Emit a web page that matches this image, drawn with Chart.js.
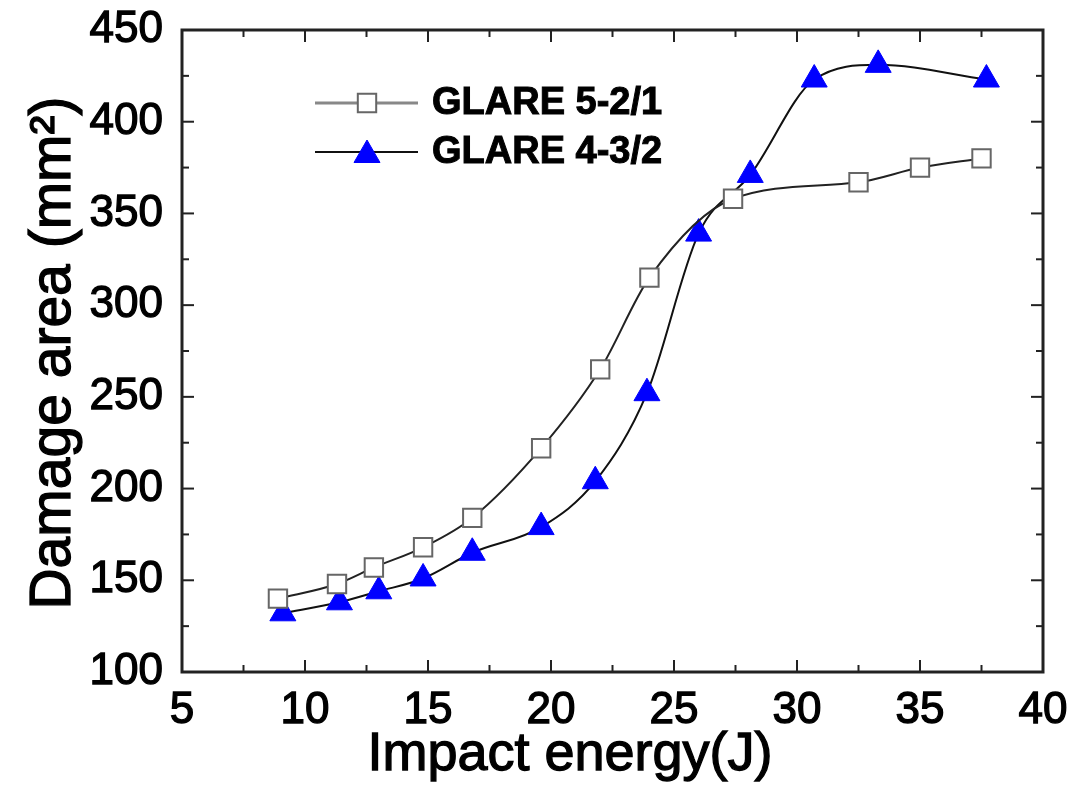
<!DOCTYPE html>
<html>
<head>
<meta charset="utf-8">
<script src="https://cdn.jsdelivr.net/npm/chart.js@4.4.1/dist/chart.umd.min.js"></script>
<style>
  html, body { margin: 0; padding: 0; background: #fff; }
  #wrap { width: 1088px; height: 792px; }
</style>
</head>
<body>
<div id="wrap"><canvas id="chart" width="1088" height="792"></canvas></div>
<script>
// values
const energy521 = [8.9, 11.3, 12.8, 14.8, 16.8, 19.6, 22.0, 24.0, 27.4, 32.5, 35.0, 37.5];
const area521   = [140, 148, 157, 168, 184, 222, 265, 315, 358, 367, 375, 380];
const energy432 = [9.1, 11.4, 13.0, 14.8, 16.8, 19.6, 21.8, 23.9, 26.0, 28.1, 30.7, 33.3, 37.7];
const area432   = [132, 138, 144, 151, 165, 179, 204, 252, 339, 371, 423, 431, 423];
const seriesNames = ['GLARE 5-2/1', 'GLARE 4-3/2'];
const xTicks = [5, 10, 15, 20, 25, 30, 35, 40];
const yTicks = [100, 150, 200, 250, 300, 350, 400, 450];
const xTitle = 'Impact energy(J)';
const yTitle = 'Damage area (mm\u00B2)';

const FONT = '"Liberation Sans", Arial, sans-serif';
const FRAME = '#222';

const toPoints = (xs, ys) => xs.map((x, i) => ({ x: x, y: ys[i] }));

// box round the plot with inward major + minor ticks on all four sides
const framePlugin = {
    id: 'frame',
    afterDatasetsDraw(chart) {
        const { ctx, chartArea: a, scales } = chart;
        const xs = scales.x, ys = scales.y;
        ctx.save();
        ctx.strokeStyle = FRAME;
        ctx.lineWidth = 2;
        const tick = (x1, y1, x2, y2) => { ctx.beginPath(); ctx.moveTo(x1, y1); ctx.lineTo(x2, y2); ctx.stroke(); };
        for (let i = 0; i < xTicks.length * 2 - 1; i++) {
            const v = xTicks[0] + i * (xTicks[1] - xTicks[0]) / 2;
            const px = xs.getPixelForValue(v);
            const len = i % 2 === 0 ? 12 : 7;
            tick(px, a.bottom, px, a.bottom - len);
            tick(px, a.top, px, a.top + len);
        }
        for (let i = 0; i < yTicks.length * 2 - 1; i++) {
            const v = yTicks[0] + i * (yTicks[1] - yTicks[0]) / 2;
            const py = ys.getPixelForValue(v);
            const len = i % 2 === 0 ? 12 : 7;
            tick(a.left, py, a.left + len, py);
            tick(a.right, py, a.right - len, py);
        }
        ctx.lineWidth = 3;
        ctx.strokeRect(a.left, a.top, a.right - a.left, a.bottom - a.top);
        ctx.restore();
    }
};

// legend (line with marker through it, then the name) and axis titles
const legendPlugin = {
    id: 'lineLegend',
    afterDraw(chart) {
        const ctx = chart.ctx;
        ctx.save();
        chart.data.datasets.forEach((ds, i) => {
            const y = 103 + i * 49;
            ctx.strokeStyle = i === 0 ? '#888' : '#111';
            ctx.lineWidth = i === 0 ? 3 : 2;
            ctx.beginPath(); ctx.moveTo(315, y); ctx.lineTo(418, y); ctx.stroke();
            ctx.fillStyle = ds.pointBackgroundColor;
            ctx.strokeStyle = ds.pointBorderColor;
            ctx.lineWidth = ds.pointBorderWidth;
            Chart.helpers.drawPoint(ctx, { pointStyle: ds.pointStyle, radius: ds.pointRadius, borderWidth: ds.pointBorderWidth, rotation: 0 }, 367, y + (i === 1 ? 3 : 0));
            ctx.fillStyle = '#000';
            ctx.strokeStyle = '#000';
            ctx.lineWidth = 1;
            ctx.font = 'bold 38px ' + FONT;
            ctx.textBaseline = 'middle';
            ctx.fillText(ds.label, 432, y + 1);
            ctx.strokeText(ds.label, 432, y + 1);
        });
        // axis titles
        ctx.fillStyle = '#000';
        ctx.strokeStyle = '#000';
        ctx.lineWidth = 1.3;
        ctx.font = '54px ' + FONT;
        ctx.textAlign = 'center';
        ctx.textBaseline = 'alphabetic';
        ctx.fillText(xTitle, 570, 770);
        ctx.strokeText(xTitle, 570, 770);
        ctx.font = '57px ' + FONT;
        ctx.translate(70, 353);
        ctx.rotate(-Math.PI / 2);
        ctx.fillText(yTitle, 0, 0);
        ctx.strokeText(yTitle, 0, 0);
        ctx.restore();
    }
};

const tickOpts = {
    color: '#000',
    textStrokeColor: '#000',
    textStrokeWidth: 1.3,
    font: { family: FONT, size: 44 }
};

new Chart(document.getElementById('chart'), {
    type: 'line',
    data: {
        datasets: [
            {
                label: seriesNames[0],
                data: toPoints(energy521, area521),
                borderColor: '#222',
                borderWidth: 2,
                cubicInterpolationMode: 'monotone',
                pointStyle: 'rect',
                pointRadius: 13,
                pointBackgroundColor: '#fff',
                pointBorderColor: '#666',
                pointBorderWidth: 2
            },
            {
                label: seriesNames[1],
                data: toPoints(energy432, area432),
                borderColor: '#111',
                borderWidth: 2,
                cubicInterpolationMode: 'monotone',
                pointStyle: 'triangle',
                pointRadius: 15,
                pointBackgroundColor: '#0000ff',
                pointBorderColor: '#0000ff',
                pointBorderWidth: 1
            }
        ]
    },
    options: {
        responsive: false,
        animation: false,
        clip: false,
        layout: { padding: { top: 30, right: 45, left: 0, bottom: 0 } },
        plugins: { legend: { display: false }, tooltip: { enabled: false } },
        scales: {
            x: {
                type: 'linear',
                min: xTicks[0],
                max: xTicks[xTicks.length - 1],
                afterBuildTicks: s => { s.ticks = xTicks.map(v => ({ value: v })); },
                afterFit: s => { s.height = 120; s.paddingLeft = 0; s.paddingRight = 0; },
                grid: { display: false, drawTicks: false },
                border: { display: false },
                ticks: Object.assign({ padding: 12, maxRotation: 0 }, tickOpts)
            },
            y: {
                type: 'linear',
                min: yTicks[0],
                max: yTicks[yTicks.length - 1],
                afterBuildTicks: s => { s.ticks = yTicks.map(v => ({ value: v })); },
                afterFit: s => { s.width = 182; s.paddingTop = 0; s.paddingBottom = 0; },
                grid: { display: false, drawTicks: false },
                border: { display: false },
                ticks: Object.assign({ padding: 19 }, tickOpts)
            }
        }
    },
    plugins: [framePlugin, legendPlugin]
});
</script>
</body>
</html>
